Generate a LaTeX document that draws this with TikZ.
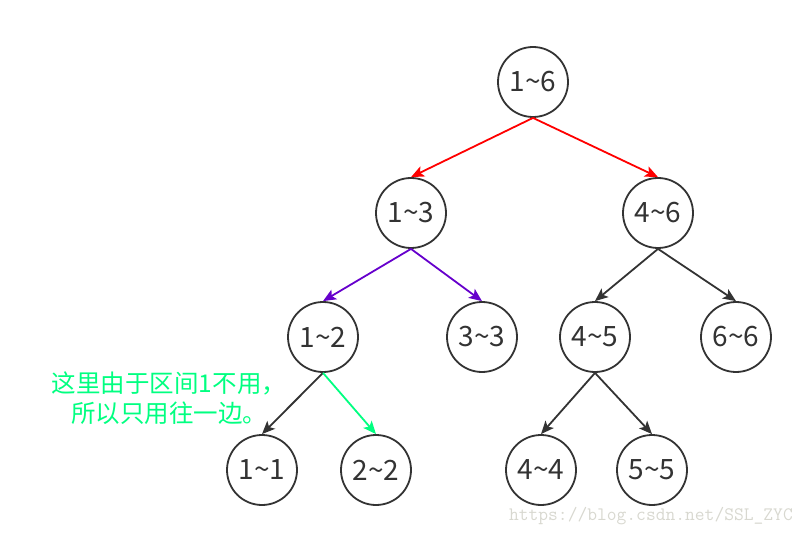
\documentclass[tikz,border=0pt]{standalone}
\usepackage{fontspec}
\setmainfont{Noto Sans CJK SC}
\usetikzlibrary{arrows.meta}
\definecolor{nodegray}{HTML}{333333}
\definecolor{edgered}{HTML}{FF0000}
\definecolor{edgepurple}{HTML}{6600CC}
\definecolor{edgegreen}{HTML}{00FF80}
\definecolor{wmgray}{HTML}{D8D8D0}
\tikzset{
  seg/.style={circle, draw=nodegray, line width=1.8pt, minimum size=70pt, inner sep=0pt,
    text=nodegray, font=\fontsize{28}{32}\selectfont},
  arr/.style={line width=1.8pt, -{Stealth[length=13pt,width=11pt,inset=3pt]}},
}
\begin{document}
\begin{tikzpicture}[x=1pt,y=-1pt]
\useasboundingbox (0,0) rectangle (803,537);
\node[seg] (n16) at (533,82) {1\textasciitilde6};
\node[seg] (n13) at (411,213) {1\textasciitilde3};
\node[seg] (n46) at (658,213) {4\textasciitilde6};
\node[seg] (n12) at (323,337) {1\textasciitilde2};
\node[seg] (n33) at (482,337) {3\textasciitilde3};
\node[seg] (n45) at (595,337) {4\textasciitilde5};
\node[seg] (n66) at (736,337) {6\textasciitilde6};
\node[seg] (n11) at (262,470) {1\textasciitilde1};
\node[seg] (n22) at (376,470) {2\textasciitilde2};
\node[seg] (n44) at (541,470) {4\textasciitilde4};
\node[seg] (n55) at (652,470) {5\textasciitilde5};
\draw[arr, edgered] (n16.south) -- (n13.north);
\draw[arr, edgered] (n16.south) -- (n46.north);
\draw[arr, edgepurple] (n13.south) -- (n12.north);
\draw[arr, edgepurple] (n13.south) -- (n33.north);
\draw[arr, nodegray] (n46.south) -- (n45.north);
\draw[arr, nodegray] (n46.south) -- (n66.north);
\draw[arr, nodegray] (n12.south) -- (n11.north);
\draw[arr, edgegreen] (n12.south) -- (n22.north);
\draw[arr, nodegray] (n45.south) -- (n44.north);
\draw[arr, nodegray] (n45.south) -- (n55.north);
\node[text=edgegreen, align=center, font=\fontsize{24.5}{30}\selectfont] (note) at (169,398) {这里由于区间1不用，\\所以只用往一边。};
\node[text=wmgray, font=\ttfamily\fontsize{19}{20}\selectfont, anchor=east, inner sep=0pt] (wm) at (793,516) {https://blog.csdn.net/SSL\_ZYC};
\end{tikzpicture}
\end{document}
